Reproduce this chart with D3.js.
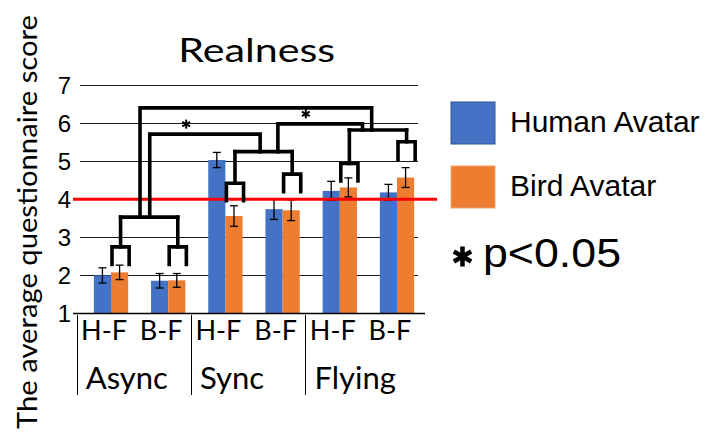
<!DOCTYPE html>
<html>
<head>
<meta charset="utf-8">
<script src="https://cdn.jsdelivr.net/npm/d3@7"></script>
<style>
  body { margin: 0; background: #fff; }
  svg { display: block; }
  .calib { font-family: Lato, "Open Sans", sans-serif; fill: #000; }
  .arial { font-family: "Liberation Sans", Arial, sans-serif; fill: #000; }
</style>
</head>
<body>
<div id="chart"></div>
<script>
// ---------- data ----------
const groups = ["Async", "Sync", "Flying"];
const conditions = ["H-F", "B-F"];
const series = ["Human Avatar", "Bird Avatar"];

const humanMean = [2.00, 1.86, 5.03, 3.74, 4.22, 4.18];
const humanErr  = [0.20, 0.19, 0.20, 0.27, 0.25, 0.21];
const birdMean  = [2.08, 1.87, 3.56, 3.71, 4.31, 4.57];
const birdErr   = [0.19, 0.18, 0.27, 0.27, 0.25, 0.26];

const yTicks = [1, 2, 3, 4, 5, 6, 7];
const refLine = 4;

// significance brackets (levels are in score units)
const pairBracketTop = [2.75, 2.75, 4.42, 4.66, 4.94, 5.51];
const groupNodeLevel = [3.53, 5.25, 5.82];
const comparisons = [
  { a: "Async", b: "Sync",   level: 5.71, sig: true },
  { a: "Sync",  b: "Flying", level: 5.98, sig: true },
  { a: "Async", b: "Flying", level: 6.40, sig: false }
];

// ---------- layout ----------
const width = 713, height = 439;
const colors = ["#4472C4", "#ED7D31"];

const svg = d3.select("#chart").append("svg")
    .attr("width", width)
    .attr("height", height);

// one entry per bar pair
const cats = [];
groups.forEach((g, gi) => conditions.forEach((c, ci) => {
    const i = gi * conditions.length + ci;
    cats.push({ id: g + " " + c, group: g, cond: c, i,
                vals: [humanMean[i], birdMean[i]], errs: [humanErr[i], birdErr[i]] });
}));

const x = d3.scaleBand()
    .domain(cats.map(d => d.id))
    .range([82.4, 425.6])
    .paddingInner(0.4)
    .paddingOuter(0.2);

const xSub = d3.scaleBand()
    .domain(series)
    .range([0, x.bandwidth()]);

const y = d3.scaleLinear()
    .domain([1, 7])
    .range([313.5, 85]);

const center = id => x(id) + x.bandwidth() / 2;

// ---------- gridlines ----------
svg.append("g")
  .selectAll("line")
  .data(yTicks.filter(t => t > 1 && t !== refLine))
  .join("line")
    .attr("x1", 80).attr("x2", 418)
    .attr("y1", d => Math.round(y(d)) + 0.5)
    .attr("y2", d => Math.round(y(d)) + 0.5)
    .attr("stroke", "#1a1a1a")
    .attr("stroke-width", 1);

// y tick labels
svg.append("g")
  .selectAll("text")
  .data(yTicks)
  .join("text")
    .attr("class", "arial")
    .attr("x", 71)
    .attr("y", d => y(d))
    .attr("dy", "0.36em")
    .attr("text-anchor", "end")
    .attr("font-size", 24)
    .text(d => d);

// ---------- bars ----------
const catG = svg.append("g")
  .selectAll("g")
  .data(cats)
  .join("g")
    .attr("transform", d => `translate(${x(d.id)},0)`);

catG.selectAll("rect")
  .data(d => d.vals.map((v, k) => ({ v, k, s: series[k] })))
  .join("rect")
    .attr("x", d => xSub(d.s))
    .attr("y", d => y(d.v))
    .attr("width", xSub.bandwidth())
    .attr("height", d => y(1) - y(d.v))
    .attr("fill", d => colors[d.k]);

// error bars
const errG = catG.selectAll("g.err")
  .data(d => d.vals.map((v, k) => ({ v, e: d.errs[k], s: series[k] })))
  .join("g")
    .attr("class", "err")
    .attr("transform", d => `translate(${xSub(d.s) + xSub.bandwidth() / 2},0)`);

errG.append("line")
    .attr("y1", d => y(d.v - d.e)).attr("y2", d => y(d.v + d.e))
    .attr("stroke", "#000").attr("stroke-width", 1.3);
errG.selectAll("line.cap")
  .data(d => [d.v - d.e, d.v + d.e])
  .join("line")
    .attr("class", "cap")
    .attr("x1", -4).attr("x2", 4)
    .attr("y1", d => y(d)).attr("y2", d => y(d))
    .attr("stroke", "#000").attr("stroke-width", 1.3);

// ---------- reference line and baseline ----------
svg.append("line")
    .attr("x1", 73).attr("x2", 437)
    .attr("y1", y(refLine)).attr("y2", y(refLine))
    .attr("stroke", "#FF0000")
    .attr("stroke-width", 3);

svg.append("line")
    .attr("x1", 73).attr("x2", 425)
    .attr("y1", y(1)).attr("y2", y(1))
    .attr("stroke", "#000")
    .attr("stroke-width", 1.5);

// ---------- x axis labels ----------
svg.append("g")
  .selectAll("text")
  .data(cats)
  .join("text")
    .attr("class", "calib")
    .attr("x", d => center(d.id) - 7)
    .attr("y", 340)
    .attr("text-anchor", "middle")
    .attr("font-size", 27)
    .text(d => d.cond);

const groupLeft = g => x(g + " " + conditions[0]) + x.bandwidth() / 2 - x.step() * 0.6;

svg.append("g")
  .selectAll("line")
  .data(groups)
  .join("line")
    .attr("x1", d => Math.round(groupLeft(d)) + 0.5)
    .attr("x2", d => Math.round(groupLeft(d)) + 0.5)
    .attr("y1", 315).attr("y2", 395)
    .attr("stroke", "#000").attr("stroke-width", 1);

svg.append("g")
  .selectAll("text")
  .data(groups)
  .join("text")
    .attr("class", "calib")
    .attr("x", d => groupLeft(d) + 9)
    .attr("y", 389)
    .attr("font-size", 31)
    .text(d => d);

// ---------- significance brackets ----------
const br = svg.append("g")
    .attr("fill", "none")
    .attr("stroke", "#000")
    .attr("stroke-width", 3.6)
    .attr("stroke-linejoin", "miter")
    .attr("stroke-linecap", "square");

const legDrop = 0.46;
const pairStem = cats.map(d => {
    const l = center(d.id) + 1, r = l + xSub.bandwidth();
    return { l, r, mid: (l + r) / 2 };
});

// bracket within each pair + stem up to its group node
cats.forEach((d, i) => {
    const p = pairStem[i];
    const top = y(pairBracketTop[i]), bot = y(pairBracketTop[i] - legDrop);
    const node = y(groupNodeLevel[Math.floor(i / 2)]);
    br.append("path").attr("d", `M${p.l},${bot}V${top}H${p.r}V${bot}`);
    br.append("path").attr("d", `M${p.mid},${top}V${node}`);
});

// group nodes
const nodeSpan = groups.map((g, gi) => ({
    l: pairStem[gi * 2].mid, r: pairStem[gi * 2 + 1].mid, level: groupNodeLevel[gi]
}));
nodeSpan.forEach(n => br.append("path").attr("d", `M${n.l},${y(n.level)}H${n.r}`));

// where each comparison leaves a group node (fraction along the node)
const stemFrac = {
    "Async|Sync":   [0.51, 0.44],
    "Sync|Flying":  [0.75, 0.23],
    "Async|Flying": [0.34, 0.39]
};

const asterisk = (g, cx, cy, r, w) => {
    [90, 30, -30].forEach(a => {
        const rad = a * Math.PI / 180;
        g.append("line")
            .attr("x1", cx - r * Math.cos(rad)).attr("y1", cy - r * Math.sin(rad))
            .attr("x2", cx + r * Math.cos(rad)).attr("y2", cy + r * Math.sin(rad))
            .attr("stroke", "#000").attr("stroke-width", w);
    });
};

comparisons.forEach(c => {
    const na = nodeSpan[groups.indexOf(c.a)], nb = nodeSpan[groups.indexOf(c.b)];
    const f = stemFrac[c.a + "|" + c.b];
    const xa = na.l + (na.r - na.l) * f[0];
    const xb = nb.l + (nb.r - nb.l) * f[1];
    br.append("path")
        .attr("d", `M${xa},${y(na.level)}V${y(c.level)}H${xb}V${y(nb.level)}`);
    if (c.sig) {
        asterisk(svg, xa + (xb - xa) * 0.33, y(c.level) - 10, 4.5, 2);
    }
});

// ---------- titles ----------
svg.append("text")
    .attr("class", "calib")
    .attr("x", 256.7)
    .attr("y", 62)
    .attr("text-anchor", "middle")
    .attr("font-size", 32.5)
    .attr("textLength", 157)
    .attr("lengthAdjust", "spacingAndGlyphs")
    .text("Realness");

svg.append("text")
    .attr("class", "calib")
    .attr("transform", "translate(37,222) rotate(-90)")
    .attr("text-anchor", "middle")
    .attr("font-size", 27)
    .attr("textLength", 414)
    .attr("lengthAdjust", "spacingAndGlyphs")
    .text("The average questionnaire score");

// ---------- legend ----------
const legend = svg.append("g").attr("transform", "translate(451,102)");
series.forEach((s, i) => {
    const g = legend.append("g").attr("transform", `translate(0,${i * 64})`);
    g.append("rect")
        .attr("width", 44).attr("height", 42)
        .attr("fill", colors[i])
        .attr("stroke", i === 0 ? "#2F5597" : "#F4A66E")
        .attr("stroke-width", 1);
    g.append("text")
        .attr("class", "arial")
        .attr("x", 59)
        .attr("y", 30)
        .attr("font-size", 30)
        .text(s);
});

asterisk(svg, 462.5, 256.5, 10, 4.5);
svg.append("text")
    .attr("class", "arial")
    .attr("x", 483)
    .attr("y", 266.7)
    .attr("font-size", 41)
    .attr("textLength", 138)
    .attr("lengthAdjust", "spacingAndGlyphs")
    .text("p<0.05");
</script>
</body>
</html>
